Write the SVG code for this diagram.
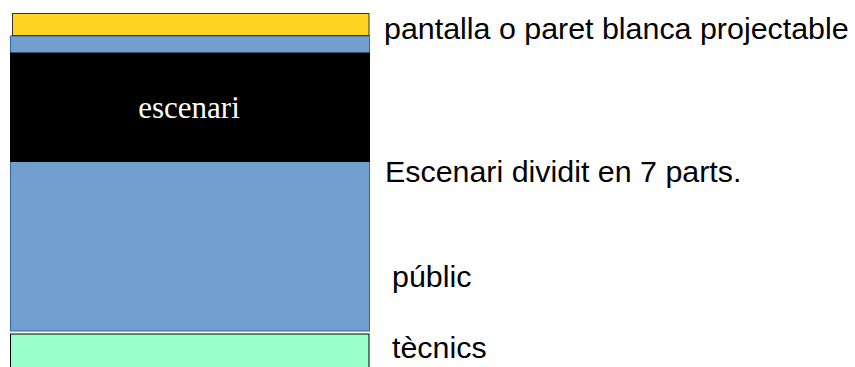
<svg xmlns="http://www.w3.org/2000/svg" width="855" height="367" viewBox="0 0 855 367">
<style>
.lbl{font-family:"Liberation Sans",Arial,sans-serif;font-size:30.4px;fill:#000}
.blue{fill:#729fcf;stroke:#3465a4;stroke-width:1}
</style>
<rect width="855" height="367" fill="#fff"/>
<g id="public-area"><rect class="blue" x="10.5" y="36" width="359" height="295"/></g>
<g id="pantalla"><rect x="12.5" y="13.5" width="356.5" height="22" fill="#ffd320" stroke="#333" stroke-width="1"/></g>
<g id="escenari"><rect x="10" y="52.5" width="360" height="109.5" fill="#000"/>
<text x="189" y="118" text-anchor="middle" font-family="'Liberation Serif','Times New Roman',serif" font-size="31" fill="#fff">escenari</text></g>
<g id="tecnics-area"><rect x="10.5" y="334" width="358.5" height="40" fill="#99ffcc" stroke="#000" stroke-width="1"/></g>
<g id="labels">
<text class="lbl" x="384" y="39">pantalla o paret blanca projectable</text>
<text class="lbl" x="385" y="182">Escenari dividit en 7 parts.</text>
<text class="lbl" x="392" y="287">públic</text>
<text class="lbl" x="392" y="358">tècnics</text>
</g>
</svg>
